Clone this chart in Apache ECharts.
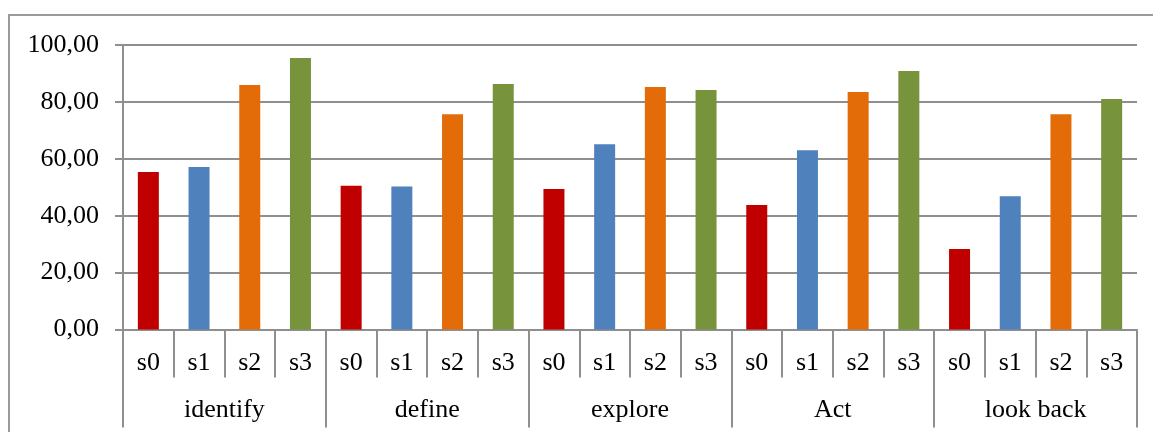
<!DOCTYPE html>
<html>
<head>
<meta charset="utf-8">
<script src="https://cdn.jsdelivr.net/npm/echarts@6/dist/echarts.min.js"></script>
<style>
  html, body { margin: 0; padding: 0; background: #fff; }
  #chart { width: 1153px; height: 432px; }
</style>
</head>
<body>
<div id="chart"></div>
<script>
// Phases (outer axis level) and sub-steps (inner axis level)
const groups = ['identify', 'define', 'explore', 'Act', 'look back'];
const subs = ['s0', 's1', 's2', 's3'];

// Scores per sub-step, one value per phase
const s0 = [55.4, 50.5, 49.4, 43.8, 28.3];
const s1 = [57.1, 50.3, 65.1, 63.0, 46.8];
const s2 = [85.9, 75.7, 85.2, 83.5, 75.7];
const s3 = [95.4, 86.3, 84.2, 90.9, 81.0];

// Y axis ticks
const yMin = 0, yMax = 100, yStep = 20;

const subColors = ['#C00000', '#4F81BD', '#E36C09', '#77933C'];
const seriesBySub = [s0, s1, s2, s3];

// Flatten into one category per (phase, sub-step)
const innerLabels = [];
const barData = [];
groups.forEach((g, gi) => {
  subs.forEach((s, si) => {
    innerLabels.push(s);
    barData.push({ value: seriesBySub[si][gi], itemStyle: { color: subColors[si] } });
  });
});

const font = 'Liberation Serif, Times New Roman, serif';
const lineGray = '#8f8f8f';

const chart = echarts.init(document.getElementById('chart'), null, { renderer: 'canvas' });
chart.setOption({
  animation: false,
  backgroundColor: '#ffffff',
  graphic: [{
    type: 'rect',
    shape: { x: 9, y: 15, width: 1300, height: 600 },
    style: { fill: 'none', stroke: '#9a9a9a', lineWidth: 2 },
    silent: true
  }],
  grid: { left: 123, right: 16, top: 45, bottom: 102.5, containLabel: false },
  xAxis: [{
    type: 'category',
    data: innerLabels,
    position: 'bottom',
    axisLine: { show: true, lineStyle: { color: lineGray, width: 2 } },
    axisTick: { show: true, interval: 0, length: 48, lineStyle: { color: lineGray, width: 2 } },
    axisLabel: { interval: 0, margin: 21, fontFamily: font, fontSize: 26, color: '#000' }
  }, {
    type: 'category',
    data: groups,
    position: 'bottom',
    axisLine: { show: false },
    axisTick: { show: true, interval: 0, length: 98, lineStyle: { color: lineGray, width: 2 } },
    axisLabel: { interval: 0, margin: 68, fontFamily: font, fontSize: 26, color: '#000' }
  }],
  yAxis: {
    type: 'value',
    min: yMin, max: yMax, interval: yStep,
    axisLine: { show: true, lineStyle: { color: lineGray, width: 2 } },
    axisTick: { show: true, length: 8, lineStyle: { color: lineGray, width: 2 } },
    splitLine: { show: true, lineStyle: { color: lineGray, width: 2 } },
    axisLabel: {
      margin: 24, fontFamily: font, fontSize: 26, color: '#000',
      formatter: v => v.toFixed(2).replace('.', ',')
    }
  },
  series: [{
    type: 'bar',
    xAxisIndex: 0,
    data: barData,
    barWidth: 21
  }]
});
</script>
</body>
</html>
